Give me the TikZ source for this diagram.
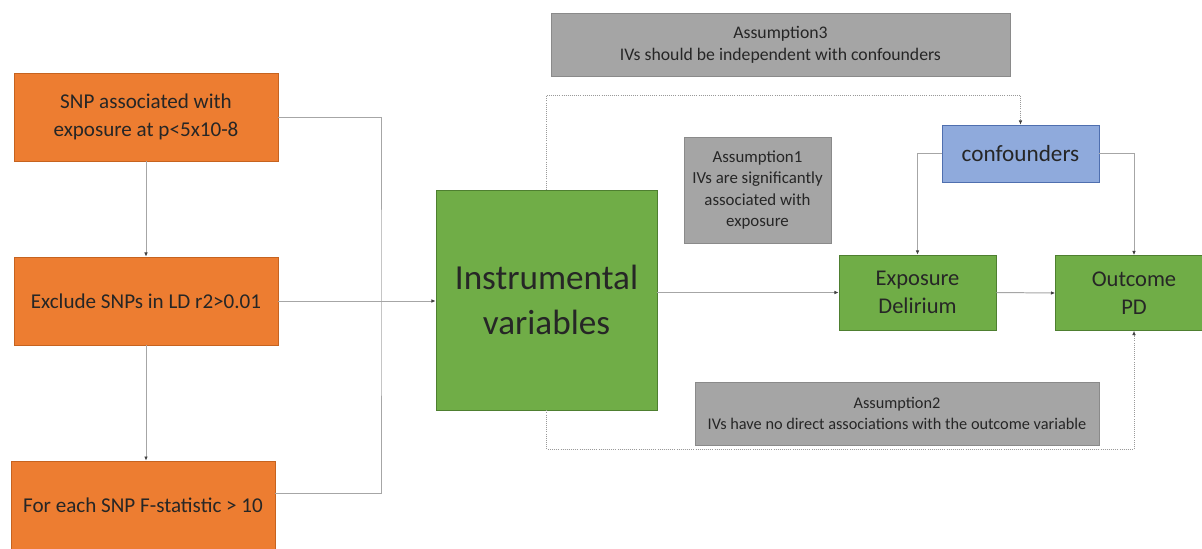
\documentclass[tikz,border=0pt]{standalone}
\usepackage{fontspec}
\setmainfont{Carlito}
\usepackage{tikz}
\usetikzlibrary{arrows.meta,shapes,positioning,calc}

\definecolor{snporange}{HTML}{ED7D31}
\definecolor{snpedge}{HTML}{C6631F}
\definecolor{ivgreen}{HTML}{70AD47}
\definecolor{ivedge}{HTML}{4E7F30}
\definecolor{asmgray}{HTML}{A5A5A5}
\definecolor{asmedge}{HTML}{8A8A8A}
\definecolor{confblue}{HTML}{8FAADC}
\definecolor{confedge}{HTML}{4F6FAF}
\definecolor{txt}{HTML}{262626}
\definecolor{wire}{HTML}{A6A6A6}

\tikzset{
  snpbox/.style={draw=snpedge,fill=snporange,text=txt,align=center,
    minimum width=6.6cm,minimum height=2.2cm,
    font=\fontsize{15}{20}\selectfont},
  greenbox/.style={draw=ivedge,fill=ivgreen,text=txt,align=center,
    font=\fontsize{16}{19.5}\selectfont},
  asmbox/.style={draw=asmedge,fill=asmgray,text=txt,align=center,
    font=\fontsize{12}{15}\selectfont},
  link/.style={draw=wire,line width=0.7pt},
  arrow/.style={link,-{Latex[length=3pt,width=2.5pt,color=black!75]}},
  dotarrow/.style={draw=gray!80,line width=0.5pt,densely dotted,
    -{Latex[length=3pt,width=2.5pt,color=black!75]}}
}

\begin{document}
\begin{tikzpicture}[x=0.025cm,y=-0.025cm]
            \useasboundingbox[fill=white] (0,0) rectangle (1202,548);

            % selection of the SNPs
            \node[snpbox] (snp) at (146,117) {SNP associated with\\exposure at p<5x10-8};
            \node[snpbox] (ld) at (146,301) {Exclude SNPs in LD r2>0.01};
            \node[snpbox] (fstat) at (143,505) {For each SNP F-statistic > 10};

            \draw[arrow] (snp.south) -- (ld.north);
            \draw[arrow] (ld.south) -- (ld.south |- fstat.north);

            % bracket into the instruments
            \coordinate (trunk) at (381,300);
            \draw[link] (snp.east) -| (trunk) |- ($(fstat.north east)+(0,33)$);

            \node[greenbox,minimum width=5.525cm,minimum height=5.5cm,
                  font=\fontsize{25}{32}\selectfont] (iv) at (546.5,300) {Instrumental\\variables};
            \draw[arrow] (ld.east) -- (iv.west |- ld.east);

            % exposure, outcome and confounders
            \node[greenbox,minimum width=3.925cm,minimum height=1.875cm] (exp) at (917.5,292.5) {Exposure\\Delirium};
            \node[greenbox,minimum width=3.925cm,minimum height=1.875cm] (out) at (1134,293) {Outcome\\PD};
            \node[draw=confedge,fill=confblue,text=txt,minimum width=3.925cm,minimum height=1.425cm,
                  font=\fontsize{16.5}{19.5}\selectfont] (conf) at (1020.5,153.5) {confounders};

            \draw[arrow] (iv.east |- exp.west) -- (exp.west);
            \draw[arrow] (exp.east) -- (out.west);
            \draw[arrow] (conf.west) -| (exp.north);
            \draw[arrow] (conf.east) -| (out.north);

            % the three assumptions
            \node[asmbox,minimum width=11.475cm,minimum height=1.575cm,
                  font=\fontsize{12.6}{15.5}\selectfont] (asm3) at (780.5,44.5)
                {Assumption3\\IVs should be independent with confounders};
            \node[asmbox,minimum width=3.675cm,minimum height=2.65cm] (asm1) at (757.5,190)
                {Assumption1\\IVs are significantly\\associated with\\exposure};
            \node[asmbox,minimum width=10.1cm,minimum height=1.575cm,
                  font=\fontsize{11.6}{15}\selectfont] (asm2) at (897,413.5)
                {Assumption2\\IVs have no direct associations with the outcome variable};

            % dotted paths
            \coordinate (toprail) at (800,95);
            \draw[dotarrow] (iv.north) |- (toprail) -| (conf.north);
            \coordinate (lowrail) at (800,449);
            \draw[dotarrow] (iv.south) |- (lowrail) -| (out.south);

        \end{tikzpicture}
\end{document}
